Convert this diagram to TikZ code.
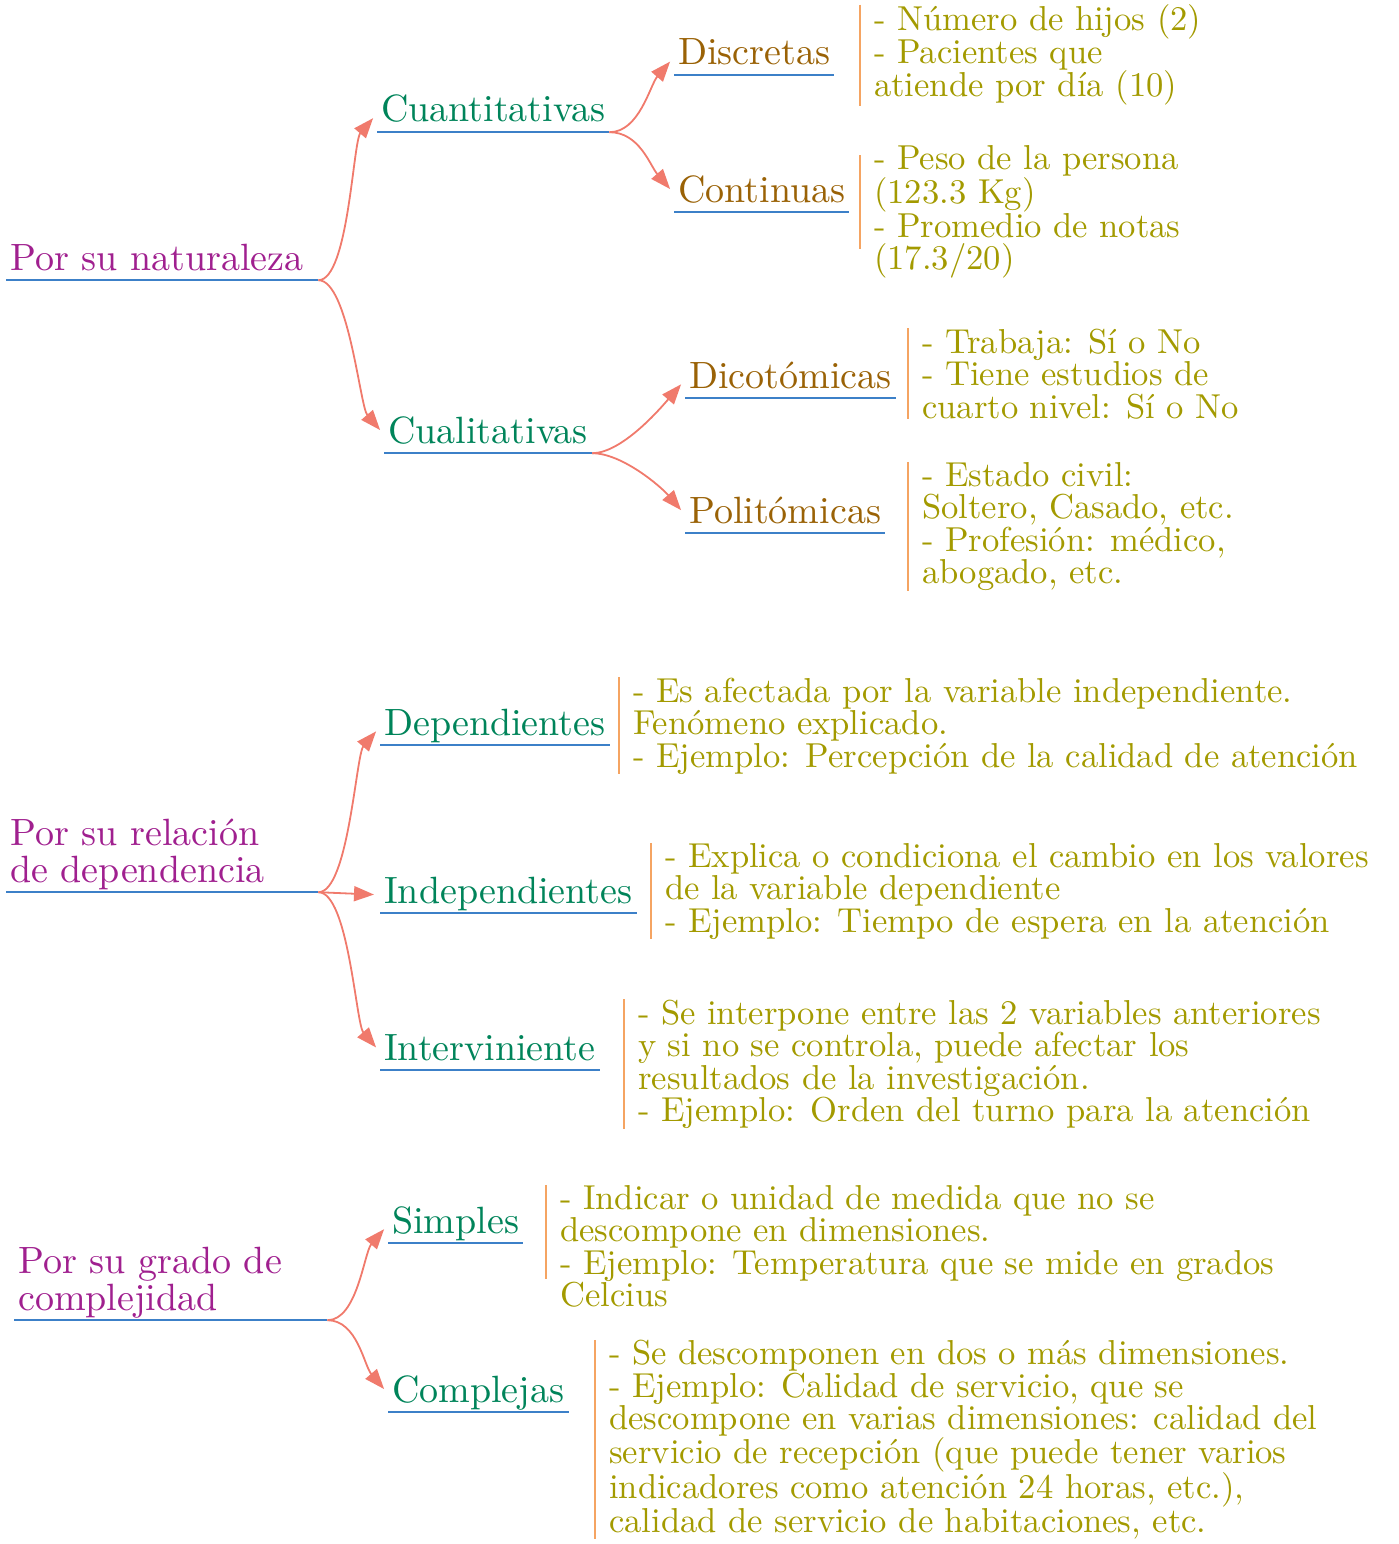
\documentclass[tikz,border=0pt]{standalone}
\usepackage{fontspec}
\setmainfont{lmroman10-regular.otf}
\usepackage{xcolor}
\definecolor{RootPurple}{HTML}{A0208F}
\definecolor{BranchGreen}{HTML}{00845A}
\definecolor{LeafBrown}{HTML}{9A6206}
\definecolor{NoteOlive}{HTML}{A39A00}
\definecolor{LineBlue}{HTML}{3C80C8}
\definecolor{LinkSalmon}{HTML}{F07A6C}
\definecolor{BarOrange}{HTML}{F5A462}
\usetikzlibrary{arrows.meta}
\tikzset{
  % Label styles
  underbar/.style={draw=LineBlue, line width=2pt},
  labelbase/.style={anchor=base west, inner xsep=4pt, inner ysep=0pt, text depth=10pt, font=\fontsize{38}{37}\selectfont, align=left, append after command={(\tikzlastnode.south west) edge[underbar] (\tikzlastnode.south east)}},
  rootlabel/.style={labelbase, text=RootPurple},
  branchlabel/.style={labelbase, text=BranchGreen},
  leaflabel/.style={labelbase, text=LeafBrown},
  % Note styles (anchored on the last line)
  notetext/.style={anchor=base west, inner sep=0pt, text=NoteOlive, font=\fontsize{34.6}{32.5}\selectfont, align=left},
  sidebar/.style={draw=BarOrange, line width=2pt},
  % Arrow styles
  link/.style={draw=LinkSalmon, line width=1.8pt, -{Triangle[length=20pt,width=15pt]}, shorten >=6pt},
  linkup/.style={link, to path={.. controls +(30,0) and +(-24,28) .. (\tikztotarget)}},
  linkdown/.style={link, to path={.. controls +(30,0) and +(-24,-28) .. (\tikztotarget)}}
}
\begin{document}
\begin{tikzpicture}[x=1pt, y=-1pt]
  \useasboundingbox (0,0) rectangle (1398,1544);

  % Por su naturaleza
  \node[rootlabel] (nat) at (6,270) {\parbox[b]{304pt}{Por su naturaleza}};
  \node[branchlabel] (cuan) at (377,122) {Cuantitativas};
  \node[branchlabel] (cual) at (384,443) {Cualitativas};
  \node[leaflabel] (disc) at (674,65) {Discretas};
  \node[leaflabel] (cont) at (674,202) {Continuas};
  \node[leaflabel] (dico) at (685,388) {Dicotómicas};
  \node[leaflabel] (poli) at (685,523) {Politómicas};

  \node[notetext] (ndisc) at (874,97) {- Número de hijos (2)\\- Pacientes que\\atiende por día (10)};
  \node[notetext] (ncont) at (874,269.5) {- Peso de la persona\\(123.3 Kg)\\- Promedio de notas\\(17.3/20)};
  \node[notetext] (ndico) at (922,418) {- Trabaja: Sí o No\\- Tiene estudios de\\cuarto nivel: Sí o No};
  \node[notetext] (npoli) at (922,583.5) {- Estado civil:\\Soltero, Casado, etc.\\- Profesión: médico,\\abogado, etc.};

  \draw[linkup] (nat.south east) to (cuan.west);
  \draw[linkdown] (nat.south east) to (cual.west);
  \draw[linkup] (cuan.south east) to (disc.west);
  \draw[linkdown] (cuan.south east) to (cont.west);
  \draw[linkup] (cual.south east) to (dico.west);
  \draw[linkdown] (cual.south east) to (poli.west);

  % Por su relacion de dependencia
  \node[rootlabel] (rel) at (6,882) {\parbox[b]{304pt}{Por su relación\\de dependencia}};
  \node[branchlabel] (dep) at (380,735) {Dependientes};
  \node[branchlabel] (indep) at (380,903) {Independientes};
  \node[branchlabel] (inter) at (380,1060) {Interviniente};

  \node[notetext] (ndep) at (633,767) {- Es afectada por la variable independiente.\\Fenómeno explicado.\\- Ejemplo: Percepción de la calidad de atención};
  \node[notetext] (nindep) at (665,932) {- Explica o condiciona el cambio en los valores\\de la variable dependiente\\- Ejemplo: Tiempo de espera en la atención};
  \node[notetext] (ninter) at (638,1121.5) {- Se interpone entre las 2 variables anteriores\\y si no se controla, puede afectar los\\resultados de la investigación.\\- Ejemplo: Orden del turno para la atención};

  \draw[linkup] (rel.south east) to (dep.west);
  \draw[link] (rel.south east) -- (indep.west);
  \draw[linkdown] (rel.south east) to (inter.west);

  % Por su grado de complejidad
  \node[rootlabel] (comp) at (14,1310) {\parbox[b]{305pt}{Por su grado de\\complejidad}};
  \node[branchlabel] (simp) at (388,1233) {Simples};
  \node[branchlabel] (cplj) at (388,1402) {Complejas};

  \node[notetext] (nsimp) at (560,1306.5) {- Indicar o unidad de medida que no se\\descompone en dimensiones.\\- Ejemplo: Temperatura que se mide en grados\\Celcius};
  \node[notetext] (ncplj) at (609,1532.5) {- Se descomponen en dos o más dimensiones.\\- Ejemplo: Calidad de servicio, que se\\descompone en varias dimensiones: calidad del\\servicio de recepción (que puede tener varios\\indicadores como atención 24 horas, etc.),\\calidad de servicio de habitaciones, etc.};

  \draw[linkup] (comp.south east) to (simp.west);
  \draw[linkdown] (comp.south east) to (cplj.west);

  % Side bars
  \foreach \n in {ndisc, ndico, npoli, ndep, nindep, ninter, ncplj}
    \draw[sidebar] ([xshift=-14pt]\n.north west) -- ([xshift=-14pt]\n.south west);
  \draw[sidebar] ([xshift=-14pt,yshift=-10pt]ncont.north west) -- ++(0,94);
  \draw[sidebar] ([xshift=-14pt]nsimp.north west) -- ++(0,94);
\end{tikzpicture}
\end{document}
